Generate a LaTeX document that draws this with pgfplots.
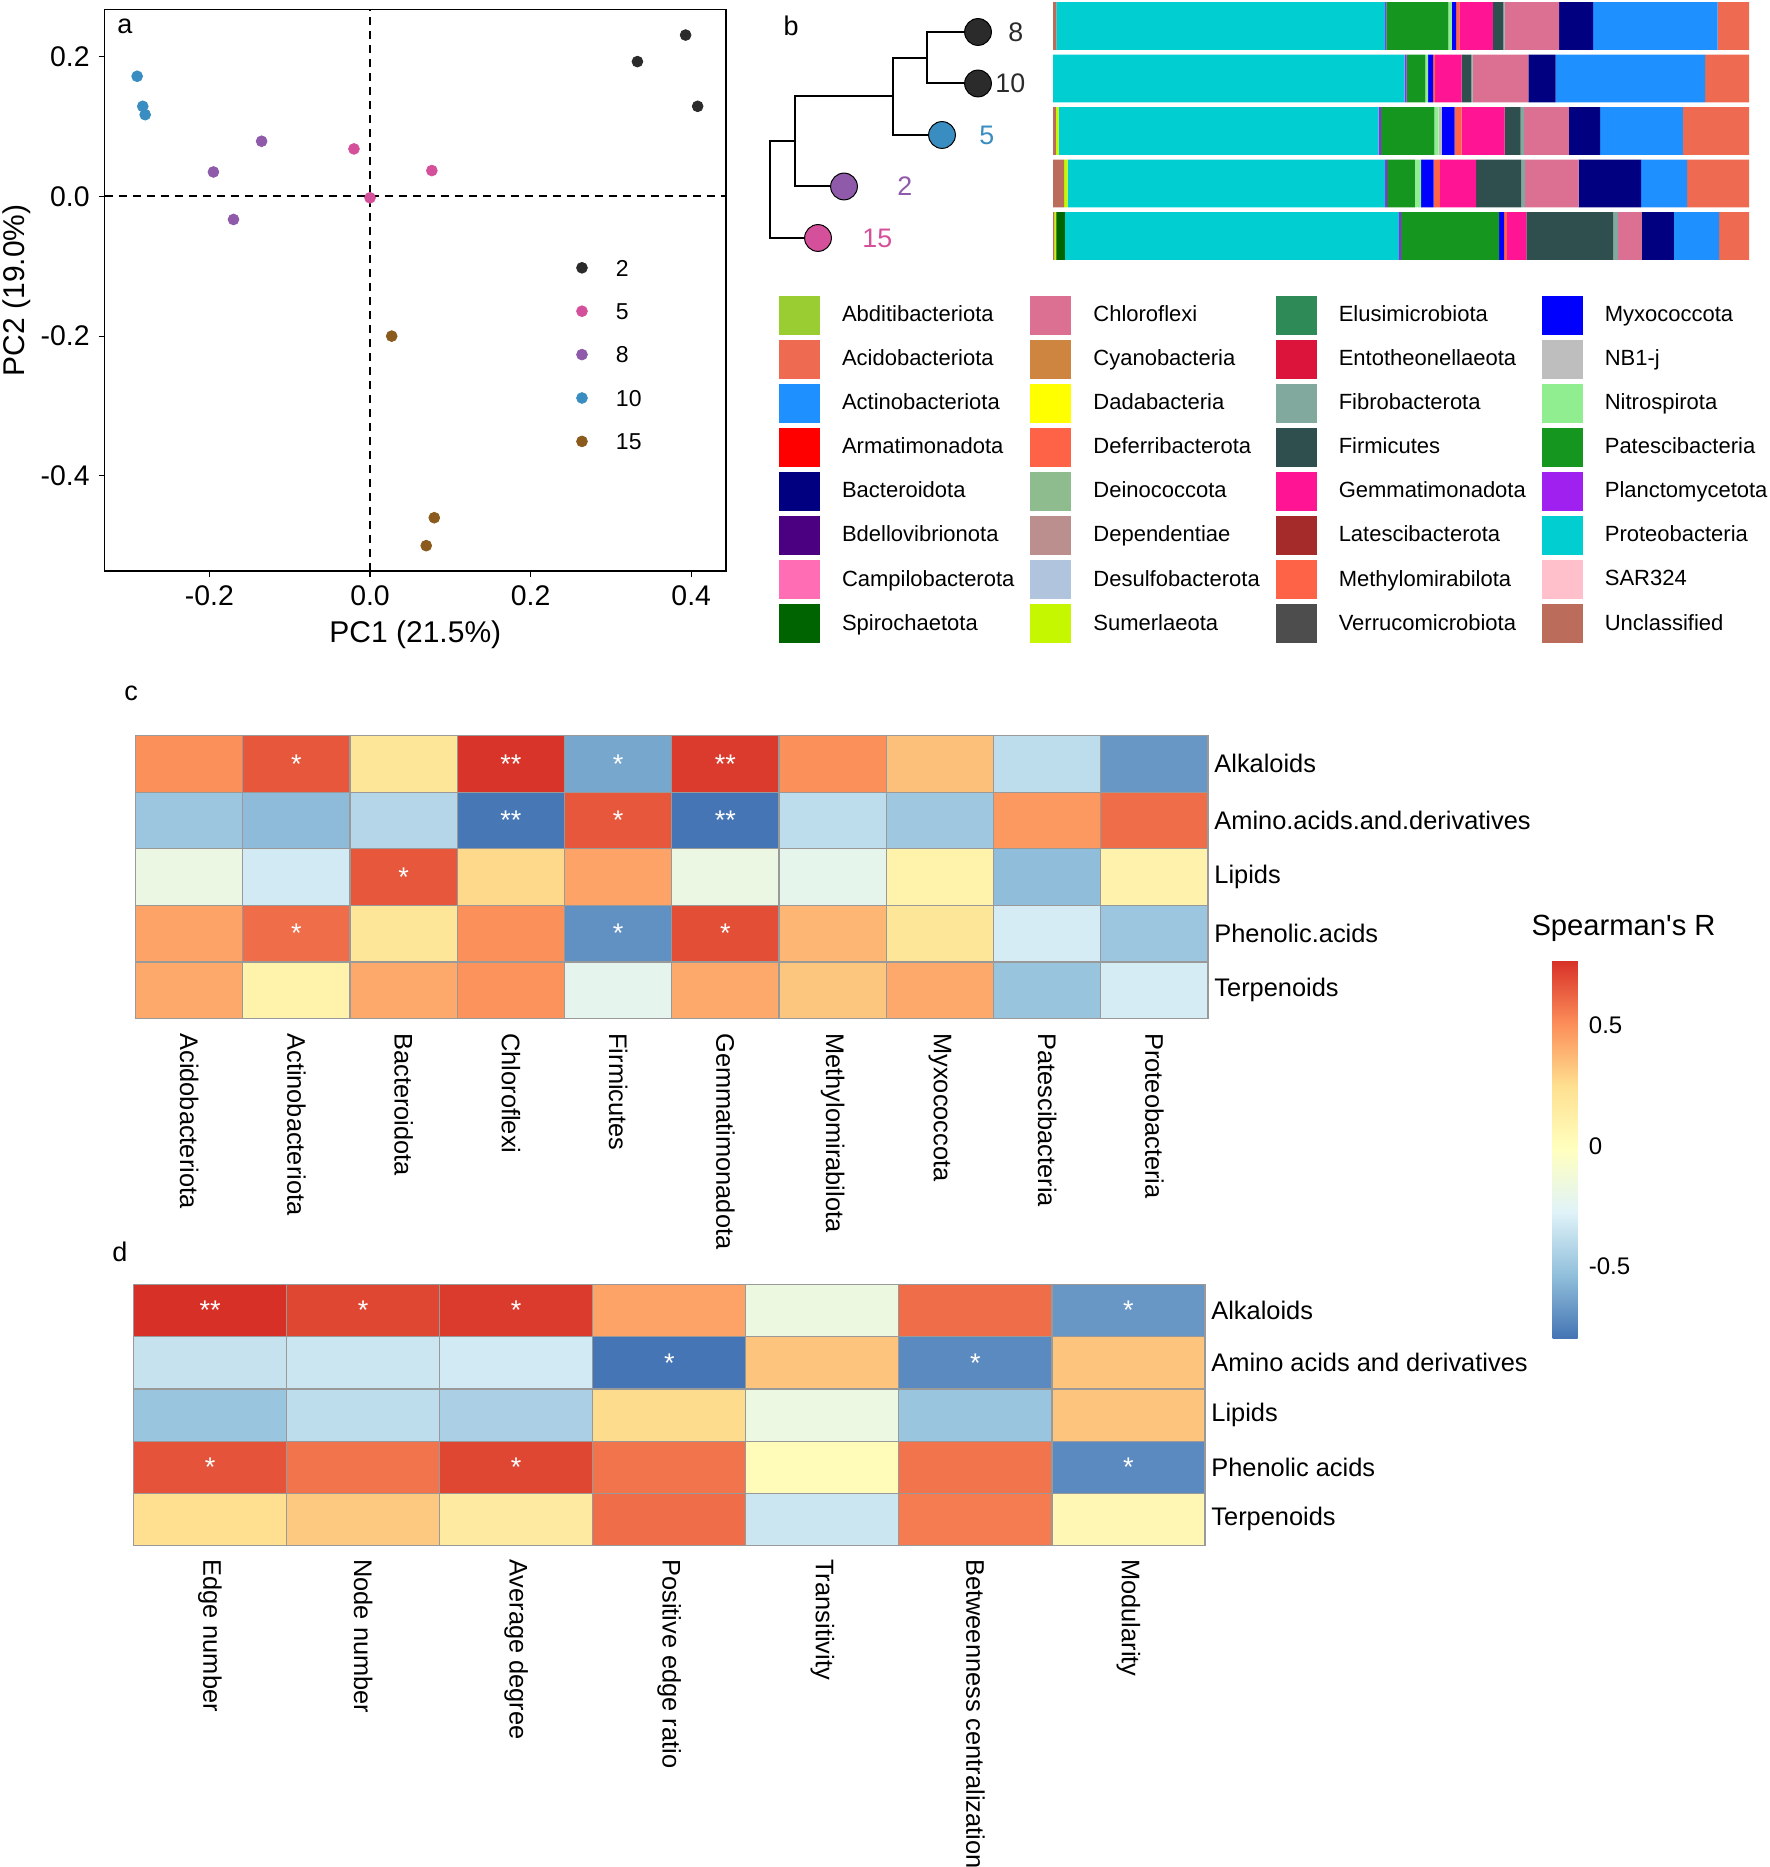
\documentclass[border=0pt]{standalone}
\usepackage{fontspec}
\setmainfont{Liberation Sans}
\usepackage{pgfplots}
\pgfplotsset{compat=1.18}
\usepackage{pgfplotstable}

% sample colours (PCoA and tree)
\definecolor{cTwo}{HTML}{2B2B2B}
\definecolor{cFive}{HTML}{D5509A}
\definecolor{cEight}{HTML}{8F5AAA}
\definecolor{cTen}{HTML}{3A8DC0}
\definecolor{cFifteen}{HTML}{8B5A1D}

% phylum colours
\definecolor{cAbdit}{HTML}{9ACD32}
\definecolor{cAcido}{HTML}{EE6A50}
\definecolor{cActino}{HTML}{1E90FF}
\definecolor{cArmat}{HTML}{FF0000}
\definecolor{cBactero}{HTML}{000080}
\definecolor{cBdello}{HTML}{4B0082}
\definecolor{cCampilo}{HTML}{FF6EB4}
\definecolor{cSpiro}{HTML}{006400}
\definecolor{cChloro}{HTML}{DB7093}
\definecolor{cCyano}{HTML}{CD853F}
\definecolor{cDada}{HTML}{FFFF00}
\definecolor{cDeferri}{HTML}{FF6347}
\definecolor{cDeino}{HTML}{8FBC8F}
\definecolor{cDepend}{HTML}{BC8F8F}
\definecolor{cDesulfo}{HTML}{B0C4DE}
\definecolor{cSumer}{HTML}{C5F700}
\definecolor{cElusi}{HTML}{2E8B57}
\definecolor{cEntotheo}{HTML}{DC143C}
\definecolor{cFibro}{HTML}{82A99D}
\definecolor{cFirmi}{HTML}{2F4F4F}
\definecolor{cGemma}{HTML}{FF1493}
\definecolor{cLatesci}{HTML}{A52A2A}
\definecolor{cMethylo}{HTML}{FF6347}
\definecolor{cVerruco}{HTML}{4D4D4D}
\definecolor{cMyxo}{HTML}{0000FF}
\definecolor{cNB}{HTML}{BEBEBE}
\definecolor{cNitro}{HTML}{90EE90}
\definecolor{cPatesci}{HTML}{15961F}
\definecolor{cPlancto}{HTML}{A020F0}
\definecolor{cProteo}{HTML}{00CED1}
\definecolor{cSAR}{HTML}{FFC0CB}
\definecolor{cUncl}{HTML}{BC6C5A}

\pgfplotsset{colormap={rdylbu}{rgb255=(69,117,180) rgb255=(145,191,219) rgb255=(224,243,248)
  rgb255=(255,255,191) rgb255=(254,224,144) rgb255=(252,141,89) rgb255=(215,48,39)}}

\newcommand{\ftick}{\fontsize{14.2}{16}\selectfont}
\newcommand{\flab}{\fontsize{15}{18}\selectfont}
\newcommand{\fleg}{\fontsize{11.5}{13}\selectfont}
\newcommand{\fphy}{\fontsize{11}{13}\selectfont}
\newcommand{\fh}{\fontsize{12.7}{15}\selectfont}
\newcommand{\fcbt}{\fontsize{14.6}{17}\selectfont}
\newcommand{\fcb}{\fontsize{12}{14}\selectfont}
\newcommand{\fstar}{\fontsize{13.5}{15}\selectfont}
\newcommand{\fpanel}{\fontsize{13.5}{16}\selectfont}
\newcommand{\ftip}{\fontsize{13.4}{16}\selectfont}

% relative abundance (%) of phyla, bars from top (sample 8, y=5) to bottom (sample 15, y=1)
\pgfplotstableread{
row Uncl Sumer Spiro Proteo Plancto Patesci Nitro NB Myxo Methylo Gemma Firmi Fibro Chloro Bactero Actino Acido
5 0.5 0   0   47.2 0.2 8.9  0.5 0   0.6 0.5 4.8 1.5  0.2 7.8 4.9 17.9 4.5
4 0   0   0   50.5 0.3 2.7  0.4 0   0.7 0.3 3.8 1.4  0.2 8.0 3.9 21.5 6.3
3 0.4 0.4 0   46.0 0.3 7.7  0.6 0.5 1.8 1.0 6.2 2.3  0.5 6.4 4.5 11.9 9.5
2 1.6 0.5 0   45.6 0.3 4.0  0.9 0   1.8 0.9 5.2 6.5  0.5 7.7 9.0 6.6  8.9
1 0.2 0.3 1.2 48.0 0.3 14.1 0   0   0.7 0.4 2.8 12.5 0.7 3.4 4.6 6.5  4.3
}\comptab

\begin{document}
\begin{tikzpicture}

% ---------------- panel a: PCoA ----------------
\begin{axis}[
  at={(52.35pt,-4.75pt)}, anchor=north west,
  scale only axis, width=310.65pt, height=280.75pt,
  xmin=-0.3304, xmax=0.4433, ymin=-0.5363, ymax=0.2676,
  xtick={-0.2,0,0.2,0.4}, xticklabels={-0.2,0.0,0.2,0.4},
  ytick={-0.4,-0.2,0,0.2}, yticklabels={-0.4,-0.2,0.0,0.2},
  tick pos=left, tick align=outside, major tick length=3pt,
  every tick/.style={black, line width=0.6pt},
  axis line style={line width=0.8pt},
  xticklabel style={font=\ftick, inner sep=0pt, anchor=north, yshift=-3.9pt},
  yticklabel style={font=\ftick, inner sep=0pt, anchor=east, xshift=-4.35pt},
  xlabel={PC1 (21.5\%)}, ylabel={PC2 (19.0\%)},
  label style={font=\flab},
  xlabel style={at={(axis description cs:0.5,-0.1133)}, anchor=center},
  ylabel style={at={(axis description cs:-0.1417,0.5)}, anchor=center},
  legend cell align=left,
  legend image code/.code={\draw[#1] plot coordinates {(0pt,0pt)};},
  legend style={at={(0.7595,0.5546)}, anchor=north west, draw=none, fill=none,
    inner sep=0pt, outer sep=0pt, font=\fleg, row sep=13.5pt,
    nodes={inner sep=0pt, text height=8.2pt, text depth=0pt},
    /tikz/every odd column/.append style={column sep=14.3pt}},
]
\addplot[black, line width=1pt, dash pattern=on 4pt off 3pt, forget plot] coordinates {(0,-0.5363) (0,0.2676)};
\addplot[black, line width=1pt, dash pattern=on 4pt off 3pt, forget plot] coordinates {(-0.3304,0) (0.4433,0)};
\addplot[only marks, mark=*, mark size=2.7pt, color=cTwo] coordinates {(0.333,0.193) (0.393,0.231) (0.408,0.129)};
\addlegendentry{2}
\addplot[only marks, mark=*, mark size=2.7pt, color=cFive] coordinates {(-0.020,0.068) (0.077,0.037) (0.0,-0.002)};
\addlegendentry{5}
\addplot[only marks, mark=*, mark size=2.7pt, color=cEight] coordinates {(-0.195,0.035) (-0.135,0.079) (-0.170,-0.033)};
\addlegendentry{8}
\addplot[only marks, mark=*, mark size=2.7pt, color=cTen] coordinates {(-0.290,0.172) (-0.283,0.129) (-0.280,0.117)};
\addlegendentry{10}
\addplot[only marks, mark=*, mark size=2.7pt, color=cFifteen] coordinates {(0.027,-0.200) (0.080,-0.460) (0.070,-0.500)};
\addlegendentry{15}
\end{axis}

% ---------------- panel b: tree ----------------
\begin{axis}[
  at={(385pt,-144.75pt)}, anchor=origin, x=50pt, y=25.75pt,
  xmin=-0.05, xmax=2.7, ymin=0, ymax=5.5, hide axis, clip=false]
\addplot[black, line width=1pt] coordinates {(0.25,2.875) (0,2.875) (0,1) (0.48,1)};
\addplot[black, line width=1pt] coordinates {(1.23,3.75) (0.25,3.75) (0.25,2) (0.74,2)};
\addplot[black, line width=1pt] coordinates {(1.57,4.5) (1.23,4.5) (1.23,3) (1.72,3)};
\addplot[black, line width=1pt] coordinates {(2.08,5) (1.57,5) (1.57,4) (2.08,4)};
\addplot[only marks, mark=*, mark size=6.7pt, mark options={fill=cTwo, draw=black, line width=0.5pt}] coordinates {(2.08,5) (2.08,4)};
\addplot[only marks, mark=*, mark size=6.7pt, mark options={fill=cTen, draw=black, line width=0.5pt}] coordinates {(1.72,3)};
\addplot[only marks, mark=*, mark size=6.7pt, mark options={fill=cEight, draw=black, line width=0.5pt}] coordinates {(0.74,2)};
\addplot[only marks, mark=*, mark size=6.7pt, mark options={fill=cFive, draw=black, line width=0.5pt}] coordinates {(0.48,1)};
\addplot[only marks, color=cTwo, mark=text, text mark={8}, text mark as node=true, text mark style={font=\ftip, anchor=west, inner sep=0pt}] coordinates {(2.38,5)};
\addplot[only marks, color=cTwo, mark=text, text mark={10}, text mark as node=true, text mark style={font=\ftip, anchor=west, inner sep=0pt}] coordinates {(2.25,4)};
\addplot[only marks, color=cTen, mark=text, text mark={5}, text mark as node=true, text mark style={font=\ftip, anchor=west, inner sep=0pt}] coordinates {(2.09,3)};
\addplot[only marks, color=cEight, mark=text, text mark={2}, text mark as node=true, text mark style={font=\ftip, anchor=west, inner sep=0pt}] coordinates {(1.27,2)};
\addplot[only marks, color=cFive, mark=text, text mark={15}, text mark as node=true, text mark style={font=\ftip, anchor=west, inner sep=0pt}] coordinates {(0.92,1)};
\end{axis}

% ---------------- panel b: stacked composition ----------------
\begin{axis}[
  at={(526.5pt,0.125pt)}, anchor=north west,
  scale only axis, width=348pt, height=131.25pt,
  xbar stacked, bar width=0.91,
  xmin=0, xmax=100, ymin=0.5, ymax=5.5, hide axis]
\addplot[fill=cUncl, draw=none] table[x=Uncl, y=row] {\comptab};
\addplot[fill=cSumer, draw=none] table[x=Sumer, y=row] {\comptab};
\addplot[fill=cSpiro, draw=none] table[x=Spiro, y=row] {\comptab};
\addplot[fill=cProteo, draw=none] table[x=Proteo, y=row] {\comptab};
\addplot[fill=cPlancto, draw=none] table[x=Plancto, y=row] {\comptab};
\addplot[fill=cPatesci, draw=none] table[x=Patesci, y=row] {\comptab};
\addplot[fill=cNitro, draw=none] table[x=Nitro, y=row] {\comptab};
\addplot[fill=cNB, draw=none] table[x=NB, y=row] {\comptab};
\addplot[fill=cMyxo, draw=none] table[x=Myxo, y=row] {\comptab};
\addplot[fill=cMethylo, draw=none] table[x=Methylo, y=row] {\comptab};
\addplot[fill=cGemma, draw=none] table[x=Gemma, y=row] {\comptab};
\addplot[fill=cFirmi, draw=none] table[x=Firmi, y=row] {\comptab};
\addplot[fill=cFibro, draw=none] table[x=Fibro, y=row] {\comptab};
\addplot[fill=cChloro, draw=none] table[x=Chloro, y=row] {\comptab};
\addplot[fill=cBactero, draw=none] table[x=Bactero, y=row] {\comptab};
\addplot[fill=cActino, draw=none] table[x=Actino, y=row] {\comptab};
\addplot[fill=cAcido, draw=none] table[x=Acido, y=row] {\comptab};
\end{axis}

% ---------------- panel b: phylum legend ----------------
\begin{axis}[
  at={(389.5pt,-147.75pt)}, anchor=north west,
  scale only axis, width=10pt, height=10pt, hide axis,
  xmin=0, xmax=1, ymin=0, ymax=1,
  legend columns=4, legend cell align=left,
  legend image code/.code={\path[#1, draw=none] (0pt,-9.75pt) rectangle (20.5pt,9.75pt);},
  legend style={at={(0,1)}, anchor=north west, draw=none, fill=none,
    inner sep=0pt, outer sep=0pt, font=\fphy, row sep=2.55pt,
    nodes={inner sep=0pt},
    /tikz/every odd column/.append style={column sep=11pt},
    /tikz/every even column/.append style={column sep=8pt}},
]
\addlegendimage{fill=cAbdit}\addlegendentry{Abditibacteriota}
\addlegendimage{fill=cChloro}\addlegendentry{Chloroflexi}
\addlegendimage{fill=cElusi}\addlegendentry{Elusimicrobiota}
\addlegendimage{fill=cMyxo}\addlegendentry{Myxococcota}
\addlegendimage{fill=cAcido}\addlegendentry{Acidobacteriota}
\addlegendimage{fill=cCyano}\addlegendentry{Cyanobacteria}
\addlegendimage{fill=cEntotheo}\addlegendentry{Entotheonellaeota}
\addlegendimage{fill=cNB}\addlegendentry{NB1-j}
\addlegendimage{fill=cActino}\addlegendentry{Actinobacteriota}
\addlegendimage{fill=cDada}\addlegendentry{Dadabacteria}
\addlegendimage{fill=cFibro}\addlegendentry{Fibrobacterota}
\addlegendimage{fill=cNitro}\addlegendentry{Nitrospirota}
\addlegendimage{fill=cArmat}\addlegendentry{Armatimonadota}
\addlegendimage{fill=cDeferri}\addlegendentry{Deferribacterota}
\addlegendimage{fill=cFirmi}\addlegendentry{Firmicutes}
\addlegendimage{fill=cPatesci}\addlegendentry{Patescibacteria}
\addlegendimage{fill=cBactero}\addlegendentry{Bacteroidota}
\addlegendimage{fill=cDeino}\addlegendentry{Deinococcota}
\addlegendimage{fill=cGemma}\addlegendentry{Gemmatimonadota}
\addlegendimage{fill=cPlancto}\addlegendentry{Planctomycetota}
\addlegendimage{fill=cBdello}\addlegendentry{Bdellovibrionota}
\addlegendimage{fill=cDepend}\addlegendentry{Dependentiae}
\addlegendimage{fill=cLatesci}\addlegendentry{Latescibacterota}
\addlegendimage{fill=cProteo}\addlegendentry{Proteobacteria}
\addlegendimage{fill=cCampilo}\addlegendentry{Campilobacterota}
\addlegendimage{fill=cDesulfo}\addlegendentry{Desulfobacterota}
\addlegendimage{fill=cMethylo}\addlegendentry{Methylomirabilota}
\addlegendimage{fill=cSAR}\addlegendentry{SAR324}
\addlegendimage{fill=cSpiro}\addlegendentry{Spirochaetota}
\addlegendimage{fill=cSumer}\addlegendentry{Sumerlaeota}
\addlegendimage{fill=cVerruco}\addlegendentry{Verrucomicrobiota}
\addlegendimage{fill=cUncl}\addlegendentry{Unclassified}
\end{axis}

% ---------------- panel c: heatmap ----------------
\begin{axis}[
  at={(67.75pt,-367.75pt)}, anchor=north west,
  scale only axis, width=536.25pt, height=141.5pt,
  xmin=-0.5, xmax=9.5, ymin=-0.5, ymax=4.5, enlargelimits=false,
  axis on top,
  xtick={0,...,9}, ytick={0,...,4},
  xticklabels={Acidobacteriota,Actinobacteriota,Bacteroidota,Chloroflexi,Firmicutes,
    Gemmatimonadota,Methylomirabilota,Myxococcota,Patescibacteria,Proteobacteria},
  yticklabels={Terpenoids,Phenolic.acids,Lipids,Amino.acids.and.derivatives,Alkaloids},
  yticklabel pos=right,
  xticklabel style={rotate=-90, anchor=west, font=\fh, inner sep=0pt},
  yticklabel style={anchor=west, font=\fh, inner sep=0pt},
  xticklabel shift=7.25pt, yticklabel shift=3pt,
  major tick length=0pt, minor tick length=0pt,
  minor xtick={0.5,1.5,...,8.5}, minor ytick={0.5,1.5,2.5,3.5},
  xminorgrids, yminorgrids,
  minor grid style={draw=black!40, line width=0.6pt},
  axis line style={draw=black!40, line width=0.6pt},
  colormap name=rdylbu,
  point meta min=-0.796, point meta max=0.769,
  colorbar,
  colorbar style={
    at={(parent axis.north east)}, anchor=north west,
    xshift=163.7pt, yshift=-112.25pt,
    scale only axis, width=12.5pt, height=189pt,
    ytick={-0.5,0,0.5}, yticklabels={-0.5,0,0.5},
    yticklabel style={font=\fcb, anchor=west, inner sep=0pt, xshift=5.5pt},
    major tick length=0pt,
    axis line style={draw=none},
    title={Spearman\textquotesingle s R},
    title style={font=\fcbt, at={(0,1)}, anchor=base west, inner sep=0pt, xshift=-10.7pt, yshift=6.5pt},
  },
]
\addplot[matrix plot*, mesh/cols=10, point meta=explicit] table[meta=v] {
x y v
0 0 0.42
1 0 0.10
2 0 0.42
3 0 0.49
4 0 -0.23
5 0 0.42
6 0 0.33
7 0 0.42
8 0 -0.51
9 0 -0.31
0 1 0.44
1 1 0.60
2 1 0.20
3 1 0.50
4 1 -0.70
5 1 0.685
6 1 0.38
7 1 0.20
8 1 -0.31
9 1 -0.50
0 2 -0.178
1 2 -0.32
2 2 0.66
3 2 0.27
4 2 0.44
5 2 -0.178
6 2 -0.22
7 2 0.10
8 2 -0.54
9 2 0.095
0 3 -0.50
1 3 -0.55
2 3 -0.42
3 3 -0.79
4 3 0.66
5 3 -0.796
6 3 -0.386
7 3 -0.49
8 3 0.47
9 3 0.60
0 4 0.50
1 4 0.66
2 4 0.20
3 4 0.76
4 4 -0.62
5 4 0.74
6 4 0.50
7 4 0.35
8 4 -0.386
9 4 -0.676
};
\addplot[only marks, color=white, mark=text, text mark={*}, text mark as node=true,
  text mark style={font=\fstar, anchor=center}] coordinates {(1,4) (4,4) (4,3) (2,2) (1,1) (4,1) (5,1)};
\addplot[only marks, color=white, mark=text, text mark={**}, text mark as node=true,
  text mark style={font=\fstar, anchor=center}] coordinates {(3,4) (5,4) (3,3) (5,3)};
\end{axis}

% ---------------- panel d: heatmap ----------------
\begin{axis}[
  at={(66.75pt,-642.25pt)}, anchor=north west,
  scale only axis, width=535.75pt, height=130.5pt,
  xmin=-0.5, xmax=6.5, ymin=-0.5, ymax=4.5, enlargelimits=false,
  axis on top,
  xtick={0,...,6}, ytick={0,...,4},
  xticklabels={Edge number,Node number,Average degree,Positive edge ratio,Transitivity,
    Betweenness centralization,Modularity},
  yticklabels={Terpenoids,Phenolic acids,Lipids,Amino acids and derivatives,Alkaloids},
  yticklabel pos=right,
  xticklabel style={rotate=-90, anchor=west, font=\fh, inner sep=0pt},
  yticklabel style={anchor=west, font=\fh, inner sep=0pt},
  xticklabel shift=6.75pt, yticklabel shift=3pt,
  major tick length=0pt, minor tick length=0pt,
  minor xtick={0.5,1.5,...,5.5}, minor ytick={0.5,1.5,2.5,3.5},
  xminorgrids, yminorgrids,
  minor grid style={draw=black!40, line width=0.6pt},
  axis line style={draw=black!40, line width=0.6pt},
  colormap name=rdylbu,
  point meta min=-0.796, point meta max=0.769,
]
\addplot[matrix plot*, mesh/cols=7, point meta=explicit] table[meta=v] {
x y v
0 0 0.247
1 0 0.32
2 0 0.155
3 0 0.60
4 0 -0.34
5 0 0.558
6 0 0.054
0 1 0.67
1 1 0.578
2 1 0.706
3 1 0.578
4 1 0.02
5 1 0.578
6 1 -0.723
0 2 -0.505
1 2 -0.386
2 2 -0.449
3 2 0.26
4 2 -0.17
5 2 -0.505
6 2 0.335
0 3 -0.36
1 3 -0.34
2 3 -0.32
3 3 -0.796
4 3 0.335
5 3 -0.723
6 3 0.335
0 4 0.769
1 4 0.706
2 4 0.74
3 4 0.44
4 4 -0.164
5 4 0.60
6 4 -0.676
};
\addplot[only marks, color=white, mark=text, text mark={*}, text mark as node=true,
  text mark style={font=\fstar, anchor=center}] coordinates {(1,4) (2,4) (6,4) (3,3) (5,3) (0,1) (2,1) (6,1)};
\addplot[only marks, color=white, mark=text, text mark={**}, text mark as node=true,
  text mark style={font=\fstar, anchor=center}] coordinates {(0,4)};
\end{axis}

% panel letters
\node[font=\fpanel] at (62.5pt,-13pt) {a};
\node[font=\fpanel] at (395.5pt,-13pt) {b};
\node[font=\fpanel] at (65.5pt,-346.5pt) {c};
\node[font=\fpanel] at (60pt,-626pt) {d};

\pgfresetboundingbox
\path[use as bounding box] (0pt,0pt) rectangle (885pt,-933.5pt);
\end{tikzpicture}
\end{document}
